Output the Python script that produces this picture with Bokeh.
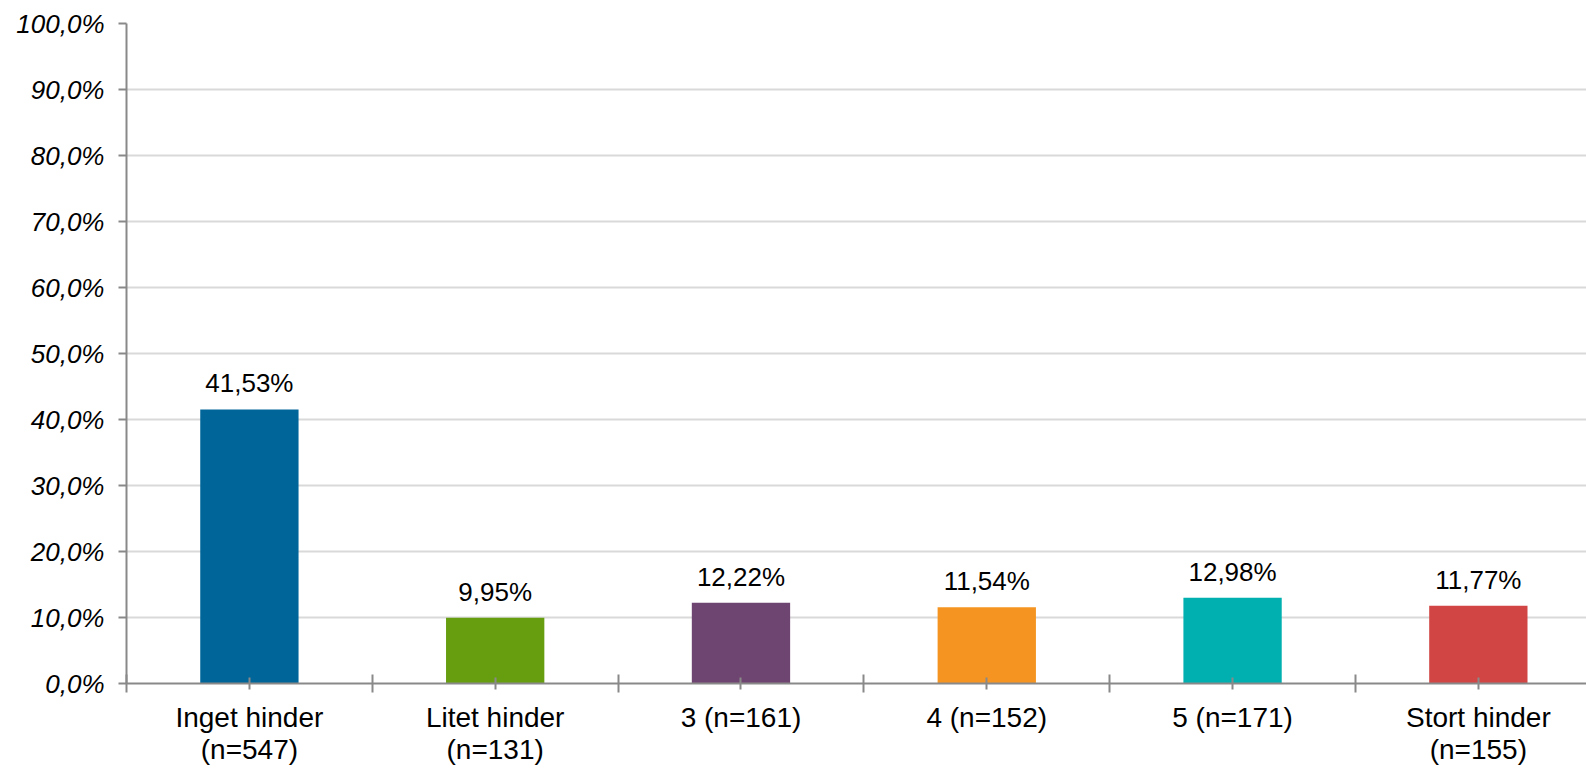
from bokeh.plotting import figure
from bokeh.models import FixedTicker, ColumnDataSource, Range1d
from bokeh.embed import file_html
from bokeh.resources import INLINE
from bokeh.core.properties import value

categories = ["Inget hinder\n(n=547)", "Litet hinder\n(n=131)", "3 (n=161)",
              "4 (n=152)", "5 (n=171)", "Stort hinder\n(n=155)"]
values = [41.53, 9.95, 12.22, 11.54, 12.98, 11.77]
colors = ["#006599", "#669E10", "#6E4571", "#F59420", "#00B0B0", "#D14545"]
y_ticks = [0, 10, 20, 30, 40, 50, 60, 70, 80, 90, 100]

FONT = "Liberation Sans"

positions = [i + 0.5 for i in range(len(categories))]
boundaries = [float(i) for i in range(len(categories) + 1)]
labels = [f"{v:.2f}".replace(".", ",") + "%" for v in values]

src = ColumnDataSource(dict(x=positions, top=values, color=colors, label=labels))

p = figure(width=1586, height=768, output_backend="svg", toolbar_location=None,
           x_range=Range1d(0, 5.94), y_range=Range1d(0, 100),
           min_border_left=126, min_border_right=0, min_border_top=23,
           min_border_bottom=83)
p.outline_line_color = None
p.background_fill_color = "white"
p.border_fill_color = "white"

p.vbar(x="x", top="top", width=0.4, bottom=0, color="color", line_color=None, source=src)
p.text(x="x", y="top", text="label", source=src, text_align="center",
       text_baseline="alphabetic", y_offset=-26, text_font=value(FONT),
       text_font_size="26px", text_color="#000000")

# grid
p.xgrid.grid_line_color = None
p.ygrid.ticker = FixedTicker(ticks=y_ticks)
p.ygrid.grid_line_color = "#d9d9d9"
p.ygrid.grid_line_width = 2

# y axis
ya = p.yaxis[0]
ya.ticker = FixedTicker(ticks=y_ticks, minor_ticks=[])
ya.major_label_overrides = {t: f"{t:.1f}".replace(".", ",") + "%" for t in y_ticks}
ya.major_label_text_font = FONT
ya.major_label_text_font_style = "italic"
ya.major_label_text_font_size = "26px"
ya.major_label_text_color = "#000000"
ya.major_label_standoff = 14
ya.axis_line_color = "#898989"
ya.axis_line_width = 2
ya.major_tick_line_color = "#898989"
ya.major_tick_line_width = 2
ya.major_tick_in = 0
ya.major_tick_out = 8
ya.minor_tick_line_color = None

# x axis
xa = p.xaxis[0]
xa.ticker = FixedTicker(ticks=positions, minor_ticks=boundaries)
xa.major_label_overrides = {x: c for x, c in zip(positions, categories)}
xa.major_label_text_font = FONT
xa.major_label_text_font_size = "28px"
xa.major_label_text_color = "#000000"
xa.major_label_text_line_height = 1.05
xa.major_label_standoff = 9
xa.axis_line_color = "#898989"
xa.axis_line_width = 2
xa.major_tick_line_color = "#898989"
xa.major_tick_line_width = 2
xa.major_tick_in = 6
xa.major_tick_out = 6
xa.minor_tick_line_color = "#898989"
xa.minor_tick_line_width = 2
xa.minor_tick_in = 9
xa.minor_tick_out = 9

open("out.html", "w").write(file_html(p, INLINE))
